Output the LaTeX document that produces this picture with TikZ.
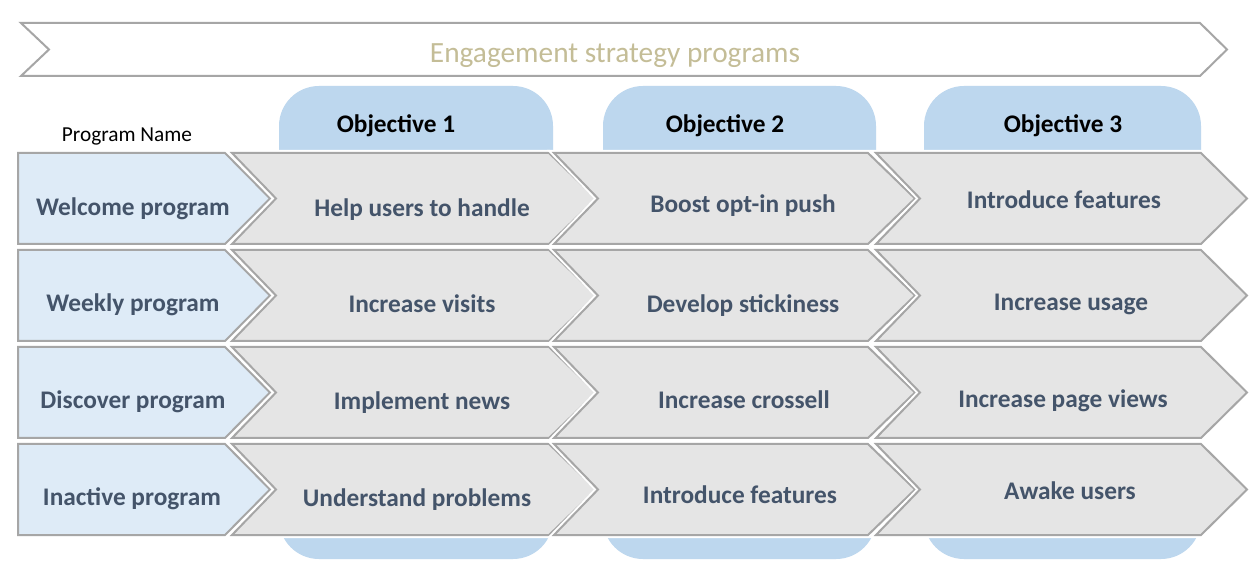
\documentclass[tikz,border=0pt]{standalone}
\usepackage{fontspec}
\setmainfont{Carlito}
\definecolor{tabblue}{HTML}{BDD7EE}
\definecolor{lightblue}{HTML}{DEEBF7}
\definecolor{chevgray}{HTML}{E5E5E5}
\definecolor{edgegray}{HTML}{A6A6A6}
\definecolor{slate}{HTML}{44546A}
\definecolor{titletan}{HTML}{C4BD97}
\begin{document}
\begin{tikzpicture}[x=0.75pt,y=-0.75pt,
  shapeline/.style={draw=edgegray, line width=1.5pt, line join=miter,
    preaction={draw=white, line width=4.5pt}},
  tabshape/.style={fill=tabblue, rounded corners=30pt},
  rowtext/.style={font=\fontsize{19}{22}\selectfont\bfseries, text=slate, inner sep=0pt,
    text height=13.5pt, text depth=4pt, yshift=-1.5pt},
  objtext/.style={font=\fontsize{19}{22}\selectfont\bfseries, text=black, inner sep=0pt,
    text height=13.5pt, text depth=4pt, yshift=-1.5pt},
  headtext/.style={font=\fontsize{16}{19}\selectfont, text=black, inner sep=0pt, yshift=-1.5pt},
  titletext/.style={font=\fontsize{22}{26}\selectfont, text=titletan, inner sep=0pt, yshift=-3pt}]
\useasboundingbox (0,0) rectangle (1257,584);
\fill[white] (0,0) rectangle (1257,584);
% banner
\draw[draw=edgegray, line width=1.5pt, line join=miter]
  (21,23) -- (1200,23) -- (1227,49.5) -- (1200,76) -- (21,76) -- (49,49.5) -- cycle;
\node[titletext] (title) at (615,52) {Engagement strategy programs};
% objective tabs
\fill[tabshape] (279,86) rectangle (553,559);
\fill[tabshape] (603,86) rectangle (876,559);
\fill[tabshape] (924,86) rectangle (1201,559);
\node[objtext] (obj1) at (396,124) {Objective 1};
\node[objtext] (obj2) at (725,124) {Objective 2};
\node[objtext] (obj3) at (1063,124) {Objective 3};
\node[headtext] (progname) at (127,134) {Program Name};
% rows
\foreach \t in {153,250,347,444} {
  \pgfmathsetmacro\b{\t+91}
  \pgfmathsetmacro\m{\t+45.5}
  \draw[shapeline, fill=lightblue] (18,\t) -- (225,\t) -- (270,\m) -- (225,\b) -- (18,\b) -- cycle;
  \draw[shapeline, fill=chevgray] (232,\t) -- (549,\t) -- (596,\m) -- (549,\b) -- (232,\b) -- (276,\m) -- cycle;
  \draw[shapeline, fill=chevgray] (554,\t) -- (868,\t) -- (915,\m) -- (868,\b) -- (554,\b) -- (598,\m) -- cycle;
  \draw[shapeline, fill=chevgray] (876,\t) -- (1201,\t) -- (1247,\m) -- (1201,\b) -- (876,\b) -- (920,\m) -- cycle;
}
% texts
\node[rowtext] (p1) at (133,207) {Welcome program};
\node[rowtext] (p2) at (133,303) {Weekly program};
\node[rowtext] (p3) at (133,400) {Discover program};
\node[rowtext] (p4) at (132,497) {Inactive program};
\node[rowtext] (a1) at (422,208) {Help users to handle};
\node[rowtext] (a2) at (422,304) {Increase visits};
\node[rowtext] (a3) at (422,401) {Implement news};
\node[rowtext] (a4) at (417,498) {Understand problems};
\node[rowtext] (b1) at (743,204) {Boost opt-in push};
\node[rowtext] (b2) at (743,304) {Develop stickiness};
\node[rowtext] (b3) at (744,400) {Increase crossell};
\node[rowtext] (b4) at (740,495) {Introduce features};
\node[rowtext] (c1) at (1064,200) {Introduce features};
\node[rowtext] (c2) at (1071,302) {Increase usage};
\node[rowtext] (c3) at (1063,399) {Increase page views};
\node[rowtext] (c4) at (1070,491) {Awake users};
\end{tikzpicture}
\end{document}
